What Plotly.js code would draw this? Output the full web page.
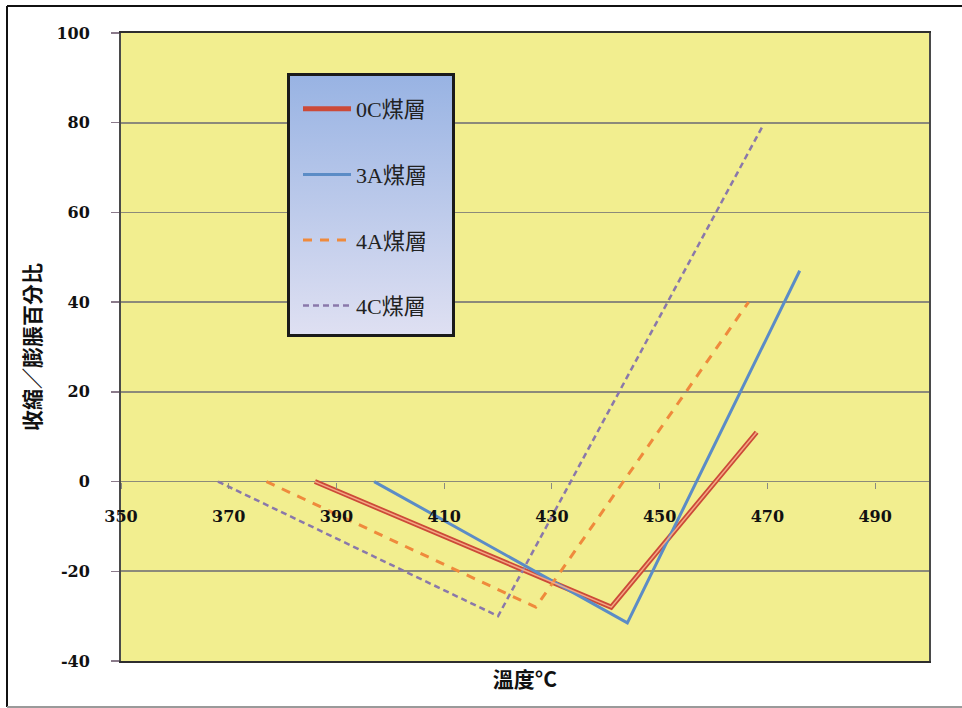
<!DOCTYPE html>
<html>
<head>
<meta charset="utf-8">
<script src="https://cdn.plot.ly/plotly-3.0.1.min.js"></script>
<style>
  html, body { margin: 0; padding: 0; background: #ffffff; }
  #chart { width: 962px; height: 708px; }
</style>
</head>
<body>
<div id="chart"></div>
<script>
// ---- data ----
const seriesNames = ['0C煤層', '3A煤層', '4A煤層', '4C煤層'];
const temps0C = [386, 441, 468];
const vals0C  = [0, -28, 11];
const temps3A = [397, 444, 476];
const vals3A  = [0, -31.5, 47];
const temps4A = [377, 427, 466.5];
const vals4A  = [0, -28, 40];
const temps4C = [368, 420, 469];
const vals4C  = [0, -30, 79];
const xTickVals = [350, 370, 390, 410, 430, 450, 470, 490];
const yTickVals = [-40, -20, 0, 20, 40, 60, 80, 100];
const xTitle = '溫度°C';
const yTitle = '收縮／膨脹百分比';

// ---- layout helpers ----
const W = 962, H = 708;
const mL = 121, mR = 33, mT = 33, mB = 47;
const pw = W - mL - mR, ph = H - mT - mB;
const px = v => (v - mL) / pw;
const py = v => (H - mB - v) / ph;
const yMin = -40, yMax = 100;

const legendFont = { family: 'Liberation Serif, Noto Sans CJK TC, serif', size: 22, color: '#222' };
const tickFont = { family: 'DejaVu Serif, serif', size: 16, color: '#111', weight: 'bold' };

const traces = [
  { x: temps0C, y: vals0C, name: seriesNames[0], mode: 'lines', legendgroup: 'a',
    line: { color: '#cc4a38', width: 5 } },
  { x: temps0C, y: vals0C, name: seriesNames[0], mode: 'lines', showlegend: false, legendgroup: 'a', xaxis: 'x2',
    line: { color: '#f5a884', width: 1.5 } },
  { x: temps3A, y: vals3A, name: seriesNames[1], mode: 'lines', legendgroup: 'b',
    line: { color: '#5b8cc6', width: 3 } },
  { x: temps4A, y: vals4A, name: seriesNames[2], mode: 'lines', legendgroup: 'c',
    line: { color: '#ef8a3c', width: 3, dash: '9px,8px' } },
  { x: temps4C, y: vals4C, name: seriesNames[3], mode: 'lines', legendgroup: 'd',
    line: { color: '#8a78aa', width: 2.5, dash: '6px,4px' } }
];

const legendSvg = "<svg xmlns='http://www.w3.org/2000/svg' width='168' height='264' viewBox='0 0 168 264' preserveAspectRatio='none'>" +
  "<defs><linearGradient id='g' x1='0' y1='0' x2='0' y2='1'>" +
  "<stop offset='0' stop-color='#98b3e3'/><stop offset='1' stop-color='#dfe0f2'/></linearGradient></defs>" +
  "<rect x='1.5' y='1.5' width='165' height='261' fill='url(#g)' stroke='#1a1a1a' stroke-width='3'/></svg>";

const layout = {
  width: W, height: H,
  margin: { l: mL, r: mR, t: mT, b: mB, pad: 0 },
  paper_bgcolor: '#ffffff',
  plot_bgcolor: '#f2ee8f',
  showlegend: true,
  legend: {
    x: px(298), y: py(88), xanchor: 'left', yanchor: 'top',
    bgcolor: 'rgba(0,0,0,0)', borderwidth: 0,
    font: legendFont, tracegroupgap: 34, itemwidth: 48,
    traceorder: 'grouped'
  },
  xaxis: {
    range: [350, 500], showticklabels: false, ticks: '', showgrid: false, zeroline: false,
    showline: true, mirror: true, linecolor: '#2e2e2e', linewidth: 2,
    title: { text: xTitle, standoff: 10,
      font: { family: 'Noto Sans CJK TC, Liberation Serif, serif', size: 21, color: '#111', weight: 'bold' } }
  },
  xaxis2: {
    overlaying: 'x', anchor: 'free', position: (0 - yMin) / (yMax - yMin),
    range: [350, 500], tickvals: xTickVals, ticktext: xTickVals.map(String),
    ticks: 'outside', ticklen: 6, tickcolor: '#8a8a80', tickwidth: 1,
    ticklabelstandoff: 14, tickfont: tickFont,
    showgrid: false, zeroline: false, showline: false
  },
  yaxis: {
    range: [yMin, yMax], tickvals: yTickVals, ticktext: yTickVals.map(String),
    ticks: 'outside', ticklen: 8, tickcolor: '#8a7a8a', tickwidth: 1.5,
    ticklabelstandoff: 18, tickfont: tickFont,
    showgrid: true, gridcolor: '#8c8a7a', gridwidth: 1.6,
    zeroline: false, showline: true, mirror: true, linecolor: '#4a4a4a', linewidth: 2,
    title: { text: yTitle, standoff: 10,
      font: { family: 'Noto Sans CJK TC, serif', size: 21, color: '#111', weight: 'bold' } }
  },
  images: [{
    source: 'data:image/svg+xml;charset=utf-8,' + encodeURIComponent(legendSvg),
    xref: 'paper', yref: 'paper', x: px(287), y: py(73),
    sizex: px(455) - px(287), sizey: py(73) - py(337),
    xanchor: 'left', yanchor: 'top', sizing: 'stretch', layer: 'above'
  }],
  shapes: [
    { type: 'line', xref: 'paper', yref: 'paper', x0: px(7), x1: px(962), y0: py(6), y1: py(6),
      line: { color: '#111', width: 2 } },
    { type: 'line', xref: 'paper', yref: 'paper', x0: px(7), x1: px(7), y0: py(6), y1: py(707),
      line: { color: '#111', width: 2 } },
    { type: 'line', xref: 'paper', yref: 'paper', x0: px(7), x1: px(962), y0: py(707), y1: py(707),
      line: { color: '#9a9a9a', width: 2 } }
  ]
};

Plotly.newPlot('chart', traces, layout, { displayModeBar: false, staticPlot: true });
</script>
</body>
</html>
